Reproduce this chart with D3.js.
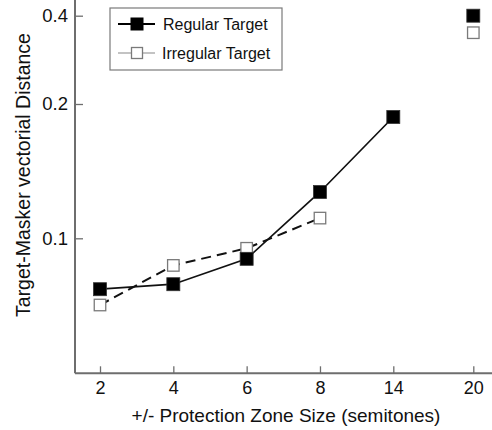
<!DOCTYPE html>
<html>
<head>
<meta charset="utf-8">
<script src="https://cdn.jsdelivr.net/npm/d3@7"></script>
<style>
  html, body { margin: 0; padding: 0; background: #fff; }
  svg { display: block; font-family: "Liberation Sans", Arial, sans-serif; }
</style>
</head>
<body>
<svg id="chart" width="492" height="430"></svg>
<script>
// ---- data ----
const categories = ["2", "4", "6", "8", "14", "20"];
const regular = [0.077, 0.079, 0.090, 0.127, 0.187, 0.40];
const irregular = [0.071, 0.087, 0.095, 0.111, null, 0.35];
const connectedCount = 5; // points joined by lines (2..14); 20 stands alone
const yTicks = [0.1, 0.2, 0.4];
const seriesNames = ["Regular Target", "Irregular Target"];
const xTitle = "+/- Protection Zone Size (semitones)";
const yTitle = "Target-Masker vectorial Distance";

// ---- layout ----
const svg = d3.select("#chart");
const axisX0 = 75, axisY0 = 373.3;
const axisColor = "#6e6e6e";

const idx = d3.range(categories.length);
const x = d3.scaleLinear().domain([0, 4, 5]).range([100, 393.3, 473.3]);
const y = d3.scaleLog().domain([0.05, 0.1, 0.2, 0.4]).range([373.3, 238.3, 104, 15.7]);

// axes lines
svg.append("line").attr("x1", axisX0).attr("x2", axisX0).attr("y1", 0).attr("y2", axisY0)
  .attr("stroke", axisColor).attr("stroke-width", 2);
svg.append("line").attr("x1", axisX0).attr("x2", 492).attr("y1", axisY0).attr("y2", axisY0)
  .attr("stroke", axisColor).attr("stroke-width", 2);

const yAxis = d3.axisLeft(y).tickValues(yTicks).tickFormat(d3.format(".1f"))
  .tickSizeInner(-8).tickSizeOuter(0).tickPadding(7);
const gy = svg.append("g").attr("transform", `translate(${axisX0},0)`).call(yAxis);
gy.select(".domain").remove();
gy.selectAll(".tick line").attr("stroke", axisColor).attr("stroke-width", 1.3);
gy.selectAll(".tick text").attr("font-size", 18.5).attr("fill", "#111")
  .attr("font-family", "'Liberation Sans', Arial, sans-serif");

const xAxis = d3.axisBottom(x).tickValues(idx).tickFormat(i => categories[i])
  .tickSizeInner(-7).tickSizeOuter(0).tickPadding(8);
const gx = svg.append("g").attr("transform", `translate(0,${axisY0})`).call(xAxis);
gx.select(".domain").remove();
gx.selectAll(".tick line").attr("stroke", axisColor).attr("stroke-width", 1.3);
gx.selectAll(".tick text").attr("font-size", 18).attr("fill", "#111")
  .attr("font-family", "'Liberation Sans', Arial, sans-serif");

// titles
svg.append("text").attr("x", 286).attr("y", 422).attr("text-anchor", "middle")
  .attr("font-size", 19).attr("fill", "#111").text(xTitle);
svg.append("text").attr("transform", "translate(30,175) rotate(-90)").attr("text-anchor", "middle")
  .attr("font-size", 19.5).attr("fill", "#111").text(yTitle);

// lines
const lineGen = d3.line().defined(d => d.v != null).x(d => x(d.i)).y(d => y(d.v));
const regPts = regular.map((v, i) => ({ i, v }));
const irrPts = irregular.map((v, i) => ({ i, v }));

svg.append("path").datum(irrPts.slice(0, connectedCount))
  .attr("d", lineGen).attr("fill", "none").attr("stroke", "#111")
  .attr("stroke-width", 2).attr("stroke-dasharray", "10,6");
svg.append("path").datum(regPts.slice(0, connectedCount))
  .attr("d", lineGen).attr("fill", "none").attr("stroke", "#111")
  .attr("stroke-width", 1.7);

// markers
const sIrr = 11.5, sReg = 13;
svg.append("g").selectAll("rect").data(irrPts.filter(d => d.v != null)).join("rect")
  .attr("x", d => x(d.i) - sIrr / 2).attr("y", d => y(d.v) - sIrr / 2)
  .attr("width", sIrr).attr("height", sIrr)
  .attr("fill", "#fff").attr("stroke", "#7a7a7a").attr("stroke-width", 1.3);
svg.append("g").selectAll("rect").data(regPts).join("rect")
  .attr("x", d => x(d.i) - sReg / 2).attr("y", d => y(d.v) - sReg / 2)
  .attr("width", sReg).attr("height", sReg)
  .attr("fill", "#000").attr("stroke", "#333").attr("stroke-width", 0.8);

// legend
const lg = svg.append("g");
lg.append("rect").attr("x", 110).attr("y", 8).attr("width", 172).attr("height", 62)
  .attr("fill", "#fff").attr("stroke", "#7a7a7a").attr("stroke-width", 1.2);
// entry 1
lg.append("line").attr("x1", 118).attr("x2", 155).attr("y1", 24).attr("y2", 24)
  .attr("stroke", "#000").attr("stroke-width", 2);
lg.append("rect").attr("x", 137 - 6.5).attr("y", 24 - 6.5).attr("width", 13).attr("height", 13)
  .attr("fill", "#000");
lg.append("text").attr("x", 163).attr("y", 24).attr("dy", "0.35em").attr("font-size", 16)
  .attr("fill", "#111").text(seriesNames[0]);
// entry 2
lg.append("line").attr("x1", 118).attr("x2", 155).attr("y1", 53).attr("y2", 53)
  .attr("stroke", "#888").attr("stroke-width", 1.2);
lg.append("rect").attr("x", 137 - 5.5).attr("y", 53 - 5.5).attr("width", 11).attr("height", 11)
  .attr("fill", "#fff").attr("stroke", "#7a7a7a").attr("stroke-width", 1.3);
lg.append("text").attr("x", 162).attr("y", 53).attr("dy", "0.35em").attr("font-size", 16)
  .attr("fill", "#111").text(seriesNames[1]);
</script>
</body>
</html>
